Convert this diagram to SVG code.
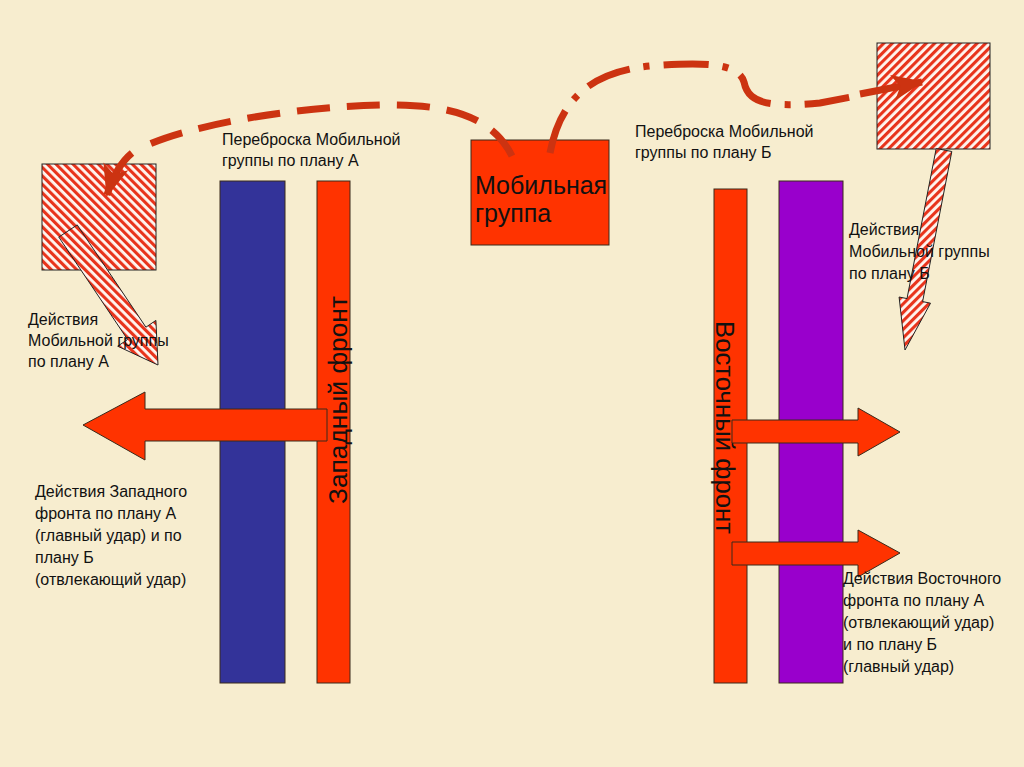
<svg xmlns="http://www.w3.org/2000/svg" width="1024" height="767" viewBox="0 0 1024 767">
<defs>
<pattern id="hatchL" width="6" height="6" patternUnits="userSpaceOnUse" patternTransform="rotate(-45)">
<rect width="6" height="6" fill="#FFF6F0"/>
<rect width="3.1" height="6" fill="#E8341C"/>
</pattern>
<pattern id="hatchR" width="6" height="6" patternUnits="userSpaceOnUse" patternTransform="rotate(45)">
<rect width="6" height="6" fill="#FFF6F0"/>
<rect width="3.1" height="6" fill="#E8341C"/>
</pattern>
<marker id="head" markerUnits="userSpaceOnUse" markerWidth="34" markerHeight="30" refX="30" refY="15" orient="auto">
<path d="M0,2 L32,15 L0,28 L8,15 z" fill="#CC3311"/>
</marker>
</defs>
<style>
.bg{fill:#F7EDCF}
.bar{stroke:#3a2a1a;stroke-width:1}
.lbl{font-family:"Liberation Sans",Arial,sans-serif;font-size:16px;fill:#111}
.big{font-family:"Liberation Sans",Arial,sans-serif;font-size:25px;fill:#111}
.dash{fill:none;stroke:#CC3311;stroke-width:7}
.hatch{stroke:#222;stroke-width:1}
.red{fill:#FF3300;stroke:#3a2a1a;stroke-width:1}
</style>
<rect class="bg" x="0" y="0" width="1024" height="767"/>

<g id="west-blue">
<rect class="bar" x="220" y="181" width="65" height="502" fill="#333399"/>
</g>
<g id="west-front">
<rect class="bar" x="317" y="181" width="33" height="502" fill="#FF3300"/>
<text class="big" transform="translate(347,504) rotate(-90)" textLength="208" lengthAdjust="spacingAndGlyphs">Западный фронт</text>
</g>
<g id="west-attack">
<polygon class="red" points="327,409 145,409 145,392 83,425 145,460 145,441 327,441"/>
</g>

<g id="east-front">
<rect class="bar" x="714" y="189" width="33" height="494" fill="#FF3300"/>
<text class="big" transform="translate(716,321) rotate(90)" textLength="213" lengthAdjust="spacingAndGlyphs">Восточный фронт</text>
</g>
<g id="east-purple">
<rect class="bar" x="779" y="181" width="64" height="502" fill="#9900CC"/>
</g>
<g id="east-attack-1">
<polygon class="red" points="732,420 858,420 858,408 900,432 858,456 858,443 732,443"/>
</g>
<g id="east-attack-2">
<polygon class="red" points="732,542 858,542 858,530 900,553 858,577 858,565 732,565"/>
</g>

<g id="mobile-group">
<rect class="red" x="471" y="140" width="138" height="105"/>
<text class="big" x="475" y="194">Мобильная</text>
<text class="big" x="475" y="222">группа</text>
</g>

<g id="target-a">
<rect class="hatch" x="42" y="164" width="114" height="106" fill="url(#hatchL)"/>
</g>
<g id="target-b">
<rect class="hatch" x="877" y="43" width="113" height="106" fill="url(#hatchR)"/>
</g>

<g id="mobile-action-a">
<polygon class="hatch" fill="url(#hatchL)" points="77.2,224.9 145.9,327.2 155.9,320.4 158,365 117.7,346.2 127.6,339.5 58.8,237.1"/>
</g>
<g id="mobile-action-b">
<polygon class="hatch" fill="url(#hatchR)" points="951.8,151.5 922.6,301.6 930.5,303.2 905,350 899.1,297 907,298.6 936.2,148.5"/>
</g>

<g id="connectors">
<path class="dash" stroke-dasharray="33 17" d="M512,156 C490,112 440,104 380,105 C300,107 200,122 145,146"/>
<path class="dash" d="M132,153 Q116,166 107,195" marker-end="url(#head)"/>
<path class="dash" stroke-dasharray="45 14 6 14" d="M550,153 C560,100 590,72 650,66 C700,62 738,62 744,82 C748,102 765,108 820,103 L856,96"/>
<path class="dash" d="M860,94 L922,82" marker-end="url(#head)"/>
</g>

<g id="labels">
<text class="lbl" x="222" y="145">Переброска Мобильной</text>
<text class="lbl" x="222" y="166">группы по плану А</text>
<text class="lbl" x="635" y="137">Переброска Мобильной</text>
<text class="lbl" x="635" y="158">группы по плану Б</text>
<text class="lbl" x="849" y="235">Действия</text>
<text class="lbl" x="849" y="257">Мобильной группы</text>
<text class="lbl" x="849" y="279">по плану Б</text>
<text class="lbl" x="28" y="325">Действия</text>
<text class="lbl" x="28" y="346">Мобильной группы</text>
<text class="lbl" x="28" y="367">по плану А</text>
<text class="lbl" x="35" y="497">Действия Западного</text>
<text class="lbl" x="35" y="519">фронта по плану А</text>
<text class="lbl" x="35" y="541">(главный удар) и по</text>
<text class="lbl" x="35" y="563">плану Б</text>
<text class="lbl" x="35" y="585">(отвлекающий удар)</text>
<text class="lbl" x="843" y="584">Действия Восточного</text>
<text class="lbl" x="843" y="606">фронта по плану А</text>
<text class="lbl" x="843" y="628">(отвлекающий удар)</text>
<text class="lbl" x="843" y="650">и по плану Б</text>
<text class="lbl" x="843" y="672">(главный удар)</text>
</g>
</svg>
